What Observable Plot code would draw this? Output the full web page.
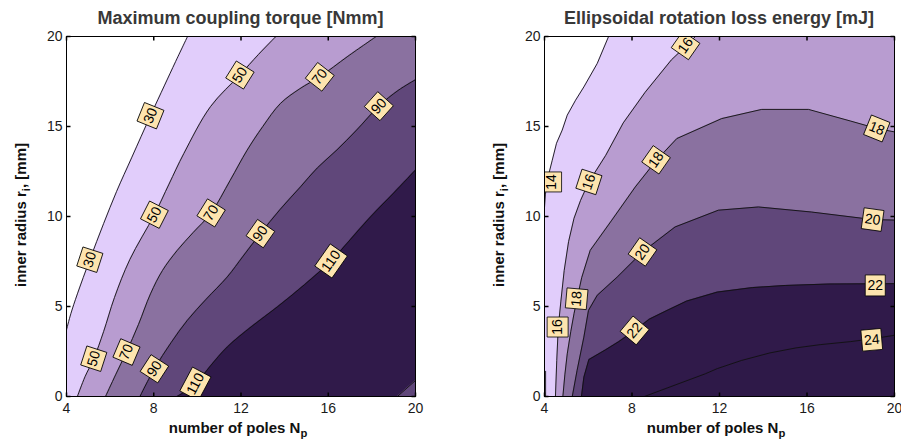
<!DOCTYPE html>
<html><head><meta charset="utf-8">
<script src="https://cdn.jsdelivr.net/npm/d3@7"></script>
<script src="https://cdn.jsdelivr.net/npm/@observablehq/plot@0.6"></script>
<style>
html,body{margin:0;padding:0;background:#fff}
#wrap{position:relative;width:901px;height:443px;overflow:hidden;font-family:"Liberation Sans",Arial,Helvetica,sans-serif}
#wrap svg{position:absolute;top:0}
.t{position:absolute;white-space:nowrap;line-height:1;font-weight:bold}
.title{font-size:18px;color:#383838;transform:translateX(-50%)}
.xl{font-size:15px;color:#111;transform:translateX(-50%)}
.yl{font-size:15px;color:#111;transform:translate(-50%,-50%) rotate(-90deg)}
.sub{font-size:0.75em;position:relative;top:0.35em}
</style></head><body><div id="wrap"></div>
<script>
// ---- axes ----
const xTicks = [4, 8, 12, 16, 20];
const yTicks = [0, 5, 10, 15, 20];
const bandColors = ["#e1cdfb", "#b89cd0", "#8a71a0", "#60477a", "#301a4a"];

// ---- left panel: maximum coupling torque [Nmm], contour lines [poles, radius] ----
const torqueLevels = [30, 50, 70, 90, 110];
const torque30 = [[4,3.7],[4.2,4.6],[4.5,5.7],[5.07,7.6],[5.7,9.6],[6.3,11.4],[7.0,13.3],[7.85,15.6],[8.5,17.3],[9.0,18.6],[9.55,20]];
const torque50 = [[4.5,0],[4.85,1.1],[5.25,2.1],[5.7,3.6],[6.2,5.5],[6.9,7.6],[8.03,10.1],[8.7,11.8],[9.38,13.5],[10.6,16.1],[11.95,17.86],[12.8,19.0],[13.6,20]];
const torque70 = [[5.79,0],[6.25,1.2],[6.75,2.47],[7.3,4.0],[7.85,5.7],[8.4,7.0],[9.08,8.12],[9.8,9.1],[10.63,10.2],[11.5,12.0],[12.28,13.68],[13.0,15.0],[13.81,16.28],[14.7,17.1],[15.61,17.76],[16.9,18.9],[18.2,20]];
const torque90 = [[7.37,0],[8.03,1.54],[8.8,3.0],[9.54,4.23],[10.4,5.4],[11.37,6.64],[12.1,7.8],[12.89,9.05],[13.8,10.4],[14.73,11.65],[15.5,12.7],[16.4,13.7],[17.3,14.8],[18.32,16.13],[19.2,17.0],[20,17.6]];
const torque110 = [[9.07,0],[9.91,0.7],[10.6,1.7],[11.37,2.75],[12.5,3.9],[13.66,4.97],[14.9,6.2],[16.13,7.53],[17.0,8.7],[17.94,9.98],[19.0,11.3],[20,12.58]];
const torque110corner = [[19.17,0],[20,0.89]];
const torqueLabels = [
  {x:7.85,y:15.6,text:"30"},{x:5.07,y:7.6,text:"30"},
  {x:11.95,y:17.86,text:"50"},{x:8.03,y:10.1,text:"50"},{x:5.25,y:2.1,text:"50"},
  {x:15.61,y:17.76,text:"70"},{x:10.63,y:10.2,text:"70"},{x:6.75,y:2.47,text:"70"},
  {x:18.32,y:16.13,text:"90"},{x:12.89,y:9.05,text:"90"},{x:8.03,y:1.54,text:"90"},
  {x:16.13,y:7.53,text:"110"},{x:9.91,y:0.7,text:"110"}
];
const torqueLabelAngles = [-68,-72,-58,-63,-72,-52,-58,-67,-48,-55,-57,-55,-62];

// ---- right panel: ellipsoidal rotation loss energy [mJ] ----
const energyLevels = [14, 16, 18, 20, 22, 24];
const energy14 = [[4.0,10.5],[4.04,11.2],[4.12,12.0],[4.35,13.1],[4.55,14.07],[4.81,14.8],[5.04,15.63],[5.42,16.46],[5.8,17.2],[6.41,18.5],[6.93,20]];
const energy14b = [[4.05,0],[4.05,1.4]];
const energy16 = [[4.5,0],[4.56,2.0],[4.63,3.85],[4.75,5.3],[4.9,7.0],[5.1,8.6],[5.35,9.9],[5.65,10.9],[6.03,11.92],[6.8,13.4],[7.6,15.2],[8.6,16.9],[9.8,18.7],[10.45,19.45],[10.9,20]];
const energy18 = [[4.84,0],[4.93,1.2],[5.04,2.37],[5.2,3.6],[5.35,4.6],[5.49,5.43],[5.7,6.6],[6.09,8.12],[7.08,9.8],[8.15,11.64],[9.1,13.1],[10.05,14.33],[12.1,15.44],[13.93,15.95],[16.07,15.95],[18.0,15.3],[19.19,14.89],[20,14.7]];
const energy20 = [[5.27,0],[5.49,1.45],[5.8,3.3],[6.01,4.78],[6.41,5.62],[7.32,6.63],[8.48,8.03],[9.97,9.42],[11.95,10.35],[13.78,10.53],[16.2,10.25],[19.0,9.83],[20,9.8]];
const energy22 = [[5.69,0],[5.8,1.07],[6.03,2.05],[6.8,2.6],[7.4,3.05],[8.12,3.67],[8.8,4.3],[9.6,4.78],[10.5,5.3],[11.9,5.8],[13.5,6.05],[15.0,6.17],[17.0,6.25],[20,6.27]];
const energy24 = [[8.57,0],[10.0,0.65],[11.35,1.26],[11.9,1.55],[13.0,2.0],[14.3,2.42],[15.5,2.7],[16.6,2.88],[18.0,3.05],[18.96,3.2],[20,3.4]];
const energyLabels = [
  {x:10.45,y:19.5,text:"16"},{x:4.3,y:11.92,text:"14"},{x:6.03,y:11.92,text:"16"},
  {x:9.1,y:13.15,text:"18"},{x:19.19,y:14.89,text:"18"},
  {x:8.48,y:8.03,text:"20"},{x:19.0,y:9.83,text:"20"},
  {x:5.47,y:5.43,text:"18"},{x:4.6,y:3.86,text:"16"},
  {x:19.12,y:6.17,text:"22"},{x:8.12,y:3.67,text:"22"},{x:18.96,y:3.15,text:"24"}
];
const energyLabelAngles = [-55,-90,-72,-55,22,-55,8,-85,-90,0,-50,-5];

// ---- helpers ----
const PX = d => d[0], PY = d => d[1];
const box2 = {draw(c){ c.rect(-10,-10.5,20,21); }};
const box3 = {draw(c){ c.rect(-13.5,-10.5,27,21); }};
const tickSym = (dx,dy) => ({draw(c){ c.moveTo(0,0); c.lineTo(dx,dy); }});
const lineStyle = {stroke:"#111", strokeWidth:0.9, clip:true};

function labelMarks(labels, angles){
  const data = labels.map((d,i)=>({...d, angle: angles[i]}));
  return [
    Plot.dot(data.filter(d=>d.text.length<3), {x:"x", y:"y", rotate:"angle", symbol:box2, r:5, fill:"#fde4ae", stroke:"#000", strokeWidth:0.8, clip:true}),
    Plot.dot(data.filter(d=>d.text.length>=3), {x:"x", y:"y", rotate:"angle", symbol:box3, r:5, fill:"#fde4ae", stroke:"#000", strokeWidth:0.8, clip:true}),
    Plot.text(data, {x:"x", y:"y", text:"text", rotate:"angle", fontSize:14, fill:"#000", clip:true})
  ];
}
function axisMarks(){
  return [
    Plot.frame({stroke:"#000", strokeWidth:1}),
    Plot.dot(xTicks, {x:d=>d, y:0, symbol:tickSym(0,-4), stroke:"#000", fill:"none"}),
    Plot.dot(xTicks, {x:d=>d, y:20, symbol:tickSym(0,4), stroke:"#000", fill:"none"}),
    Plot.dot(yTicks, {x:4, y:d=>d, symbol:tickSym(4,0), stroke:"#000", fill:"none"}),
    Plot.dot(yTicks, {x:20, y:d=>d, symbol:tickSym(-4,0), stroke:"#000", fill:"none"}),
    Plot.axisX({ticks:xTicks, tickSize:0, tickPadding:7, fontSize:14, label:null}),
    Plot.axisY({ticks:yTicks, tickSize:0, tickPadding:4, fontSize:14, label:null})
  ];
}
const common = {
  height:443, marginTop:36, marginBottom:47,
  x:{domain:[4,20]}, y:{domain:[0,20]},
  style:{fontFamily:'"Liberation Sans", Arial, sans-serif', color:"#1a1a1a", background:"transparent", overflow:"visible"}
};

const smooth = "catmull-rom";
const left = Plot.plot({
  ...common, width:450, marginLeft:66, marginRight:35,
  marks:[
    Plot.frame({fill:bandColors[0]}),
    Plot.areaX(torque30, {y:PY, x1:4, x2:PX, fill:"#fff", curve:smooth, clip:true}),
    Plot.areaX(torque50, {y:PY, x1:PX, x2:20, fill:bandColors[1], curve:smooth, clip:true}),
    Plot.areaX(torque70, {y:PY, x1:PX, x2:20, fill:bandColors[2], curve:smooth, clip:true}),
    Plot.areaX(torque90, {y:PY, x1:PX, x2:20, fill:bandColors[3], curve:smooth, clip:true}),
    Plot.areaX(torque110, {y:PY, x1:PX, x2:20, fill:bandColors[4], curve:smooth, clip:true}),
    Plot.areaX(torque110corner, {y:PY, x1:PX, x2:20, fill:bandColors[3], clip:true}),
    ...[torque30, torque50, torque70, torque90, torque110].map(c => Plot.line(c, {x:PX, y:PY, curve:smooth, ...lineStyle})),
    Plot.line(torque110corner, {x:PX, y:PY, ...lineStyle}),
    ...labelMarks(torqueLabels, torqueLabelAngles),
    ...axisMarks()
  ]
});
left.style.left = "0px";

const right = Plot.plot({
  ...common, width:451, marginLeft:94, marginRight:7,
  marks:[
    Plot.frame({fill:bandColors[0]}),
    Plot.areaX(energy14, {y:PY, x1:4, x2:PX, fill:"#fff", clip:true}),
    Plot.areaX(energy14b, {y:PY, x1:4, x2:PX, fill:"#fff", clip:true}),
    Plot.areaX(energy16, {y:PY, x1:PX, x2:20, fill:bandColors[1], clip:true}),
    Plot.areaY(energy18, {x:PX, y1:0, y2:PY, fill:bandColors[2], clip:true}),
    Plot.areaY(energy20, {x:PX, y1:0, y2:PY, fill:bandColors[3], clip:true}),
    Plot.areaY(energy22, {x:PX, y1:0, y2:PY, fill:bandColors[4], clip:true}),
    Plot.areaY(energy24, {x:PX, y1:0, y2:PY, fill:"#2e1948", clip:true}),
    ...[energy14, energy14b, energy16, energy18, energy20, energy22, energy24].map(c => Plot.line(c, {x:PX, y:PY, ...lineStyle})),
    ...labelMarks(energyLabels, energyLabelAngles),
    ...axisMarks()
  ]
});
right.style.left = "450px";

const wrap = document.getElementById("wrap");
wrap.appendChild(left);
wrap.appendChild(right);

function addText(cls, html, x, y){
  const d = document.createElement("div");
  d.className = "t " + cls;
  d.innerHTML = html;
  d.style.left = x + "px";
  d.style.top = y + "px";
  wrap.appendChild(d);
}
addText("title", "Maximum coupling torque [Nmm]", 240.5, 8.8);
addText("title", "Ellipsoidal rotation loss energy [mJ]", 719, 8.8);
addText("xl", 'number of poles N<span class="sub">p</span>', 238, 420.3);
addText("xl", 'number of poles N<span class="sub">p</span>', 716, 420.3);
addText("yl", 'inner radius r<span class="sub">i</span>, [mm]', 21, 215);
addText("yl", 'inner radius r<span class="sub">i</span>, [mm]', 499, 215);
</script></body></html>
